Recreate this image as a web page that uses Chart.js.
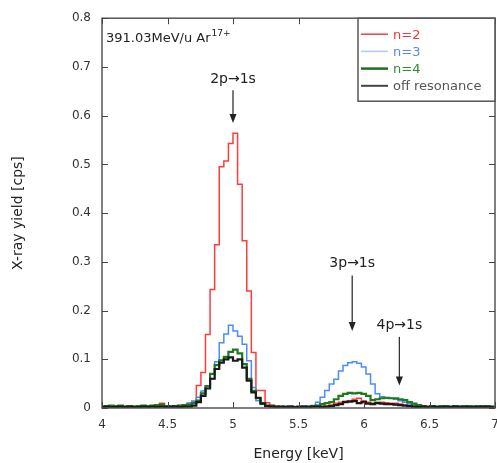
<!DOCTYPE html>
<html>
<head>
<meta charset="utf-8">
<script src="https://cdn.jsdelivr.net/npm/chart.js@4.4.1/dist/chart.umd.min.js"></script>
<style>
    html, body { margin: 0; padding: 0; background: #fff; }
</style>
</head>
<body>
<canvas id="spectrum" width="497" height="463"></canvas>
<script>
// bin edges of the histogram [keV]
var energyEdges = [
    3.985, 4.020, 4.055, 4.090, 4.125, 4.160, 4.195, 4.230, 4.265, 4.300,
    4.335, 4.370, 4.405, 4.440, 4.475, 4.510, 4.545, 4.580, 4.615, 4.650,
    4.685, 4.720, 4.755, 4.790, 4.825, 4.860, 4.895, 4.930, 4.965, 5.000,
    5.035, 5.070, 5.105, 5.140, 5.175, 5.210, 5.245, 5.280, 5.315, 5.350,
    5.385, 5.420, 5.455, 5.490, 5.525, 5.560, 5.595, 5.630, 5.665, 5.700,
    5.735, 5.770, 5.805, 5.840, 5.875, 5.910, 5.945, 5.980, 6.015, 6.050,
    6.085, 6.120, 6.155, 6.190, 6.225, 6.260, 6.295, 6.330, 6.365, 6.400,
    6.435, 6.470, 6.505, 6.540, 6.575, 6.610, 6.645, 6.680, 6.715, 6.750,
    6.785, 6.820, 6.855, 6.890, 6.925, 6.960, 6.995
];

// counts per bin [cps]
var yieldN2 = [
    0.002, 0.003, 0.002, 0.003, 0.002, 0.003, 0.002, 0.003, 0.004, 0.003,
    0.003, 0.004, 0.005, 0.010, 0.004, 0.003, 0.004, 0.005, 0.006,
    0.010, 0.014, 0.046, 0.073, 0.151, 0.243, 0.335, 0.495, 0.507, 0.543,
    0.564, 0.459, 0.343, 0.240, 0.114, 0.036, 0.036, 0.011, 0.006, 0.004,
    0.003, 0.002, 0.003, 0.002, 0.003, 0.002, 0.003, 0.003, 0.004, 0.004,
    0.004, 0.006, 0.010, 0.012, 0.014, 0.015, 0.018, 0.020, 0.015, 0.012,
    0.010, 0.012, 0.012, 0.011, 0.010, 0.010, 0.008, 0.006, 0.004, 0.003,
    0.002, 0.003, 0.002, 0.003, 0.002, 0.002, 0.003, 0.002, 0.003, 0.002,
    0.003, 0.002, 0.003, 0.002, 0.002, 0.003, 0.002
];
var yieldN3 = [
    0.002, 0.002, 0.003, 0.002, 0.002, 0.003, 0.002, 0.003, 0.002, 0.003,
    0.002, 0.003, 0.003, 0.004, 0.003, 0.002, 0.003, 0.004, 0.006,
    0.010, 0.014, 0.022, 0.035, 0.045, 0.060, 0.095, 0.134, 0.152, 0.170,
    0.158, 0.147, 0.131, 0.097, 0.042, 0.015, 0.008, 0.005, 0.004, 0.003,
    0.002, 0.003, 0.002, 0.003, 0.002, 0.004, 0.003, 0.005, 0.012, 0.022,
    0.036, 0.049, 0.059, 0.076, 0.087, 0.093, 0.095, 0.092, 0.084, 0.070,
    0.049, 0.029, 0.023, 0.020, 0.020, 0.018, 0.015, 0.012, 0.008, 0.006,
    0.005, 0.004, 0.003, 0.004, 0.003, 0.003, 0.004, 0.003, 0.003, 0.004,
    0.003, 0.003, 0.004, 0.003, 0.003, 0.004, 0.003
];
var yieldN4 = [
    0.003, 0.004, 0.005, 0.004, 0.005, 0.003, 0.004, 0.003, 0.004, 0.005,
    0.004, 0.005, 0.006, 0.007, 0.004, 0.003, 0.004, 0.005, 0.006,
    0.007, 0.010, 0.015, 0.030, 0.045, 0.070, 0.088, 0.098, 0.105, 0.115,
    0.120, 0.112, 0.090, 0.060, 0.035, 0.020, 0.010, 0.005, 0.004, 0.003,
    0.002, 0.003, 0.003, 0.002, 0.003, 0.002, 0.003, 0.004, 0.005, 0.008,
    0.010, 0.012, 0.018, 0.025, 0.029, 0.031, 0.030, 0.031, 0.029, 0.025,
    0.016, 0.018, 0.020, 0.021, 0.020, 0.020, 0.018, 0.016, 0.012, 0.009,
    0.006, 0.004, 0.003, 0.004, 0.003, 0.004, 0.003, 0.003, 0.004, 0.003,
    0.003, 0.004, 0.003, 0.003, 0.004, 0.003, 0.003
];
var yieldOff = [
    0.002, 0.003, 0.002, 0.002, 0.003, 0.002, 0.003, 0.002, 0.002, 0.003,
    0.002, 0.003, 0.002, 0.003, 0.002, 0.003, 0.003, 0.002, 0.003,
    0.003, 0.005, 0.012, 0.025, 0.040, 0.060, 0.080, 0.093, 0.100, 0.104,
    0.097, 0.100, 0.083, 0.056, 0.032, 0.021, 0.009, 0.004, 0.003, 0.002,
    0.003, 0.002, 0.003, 0.002, 0.002, 0.003, 0.002, 0.003, 0.003, 0.002,
    0.003, 0.004, 0.006, 0.008, 0.012, 0.013, 0.014, 0.010, 0.012, 0.009,
    0.008, 0.010, 0.009, 0.008, 0.008, 0.007, 0.006, 0.005, 0.004, 0.003,
    0.002, 0.003, 0.002, 0.003, 0.002, 0.002, 0.003, 0.002, 0.003, 0.002,
    0.003, 0.002, 0.002, 0.003, 0.002, 0.003, 0.002
];

var seriesLabels = ["n=2", "n=3", "n=4", "off resonance"];
var xTicks = [4, 4.5, 5, 5.5, 6, 6.5, 7];
var yTicks = [0, 0.1, 0.2, 0.3, 0.4, 0.5, 0.6, 0.7, 0.8];

var transitionLabels = ["2p\u21921s", "3p\u21921s", "4p\u21921s"];
var transitionEnergies = [5.0, 5.91, 6.27];

// placement of the annotations, in axis units
var arrowLayout = [
    { labelY: 0.675, fromY: 0.652, toY: 0.585 },
    { labelY: 0.296, fromY: 0.272, toY: 0.158 },
    { labelY: 0.170, fromY: 0.146, toY: 0.046 }
];

var FONT = "'DejaVu Sans', sans-serif";

function toSteps(values) {
    var pts = values.map(function (v, i) {
        return { x: energyEdges[i], y: v };
    });
    pts.push({ x: energyEdges[values.length], y: values[values.length - 1] });
    return pts;
}

function stepSet(label, values, color, width, order) {
    return {
        label: label,
        data: toSteps(values),
        borderColor: color,
        backgroundColor: color,
        borderWidth: width,
        stepped: true,
        pointRadius: 0,
        fill: false,
        order: order
    };
}

var legendTextColors = ['#e83a3a', '#4f8df5', '#2f8a2f', '#555555'];
var legendLineColors = ['#f04040', '#a9c8ff', '#1d6e1d', '#444444'];
var legendLineWidths = [1.5, 1.5, 2.5, 2];

var framePlugin = {
    id: 'frame',
    afterDatasetsDraw: function (chart) {
        var ctx = chart.ctx;
        var a = chart.chartArea;
        var xs = chart.scales.x;
        var ys = chart.scales.y;
        ctx.save();

        // box around plot
        ctx.strokeStyle = '#555';
        ctx.lineWidth = 1.5;
        ctx.strokeRect(a.left, a.top, a.right - a.left, a.bottom - a.top);

        // inward ticks on all four sides
        ctx.lineWidth = 1;
        ctx.strokeStyle = '#444';
        ctx.beginPath();
        xTicks.forEach(function (v) {
            var px = Math.round(xs.getPixelForValue(v)) + 0.5;
            ctx.moveTo(px, a.bottom);
            ctx.lineTo(px, a.bottom - 6);
            ctx.moveTo(px, a.top);
            ctx.lineTo(px, a.top + 6);
        });
        yTicks.forEach(function (v) {
            var py = Math.round(ys.getPixelForValue(v)) + 0.5;
            ctx.moveTo(a.left, py);
            ctx.lineTo(a.left + 6, py);
            ctx.moveTo(a.right, py);
            ctx.lineTo(a.right - 6, py);
        });
        ctx.stroke();

        // beam label
        ctx.fillStyle = '#222';
        ctx.textBaseline = 'middle';
        ctx.textAlign = 'left';
        ctx.font = '13px ' + FONT;
        var tx = a.left + 4, ty = a.top + 20;
        var main = '391.03MeV/u Ar';
        ctx.fillText(main, tx, ty);
        var w = ctx.measureText(main).width;
        ctx.font = '9px ' + FONT;
        ctx.fillText('17+', tx + w + 1, ty - 5);

        // transition arrows
        ctx.font = '14px ' + FONT;
        ctx.textAlign = 'center';
        ctx.strokeStyle = '#333';
        ctx.fillStyle = '#222';
        transitionLabels.forEach(function (txt, i) {
            var px = xs.getPixelForValue(transitionEnergies[i]);
            var spec = arrowLayout[i];
            ctx.fillText(txt, px, ys.getPixelForValue(spec.labelY));
            var y0 = ys.getPixelForValue(spec.fromY);
            var y1 = ys.getPixelForValue(spec.toY);
            ctx.lineWidth = 1.3;
            ctx.beginPath();
            ctx.moveTo(px, y0);
            ctx.lineTo(px, y1 - 6);
            ctx.stroke();
            ctx.beginPath();
            ctx.moveTo(px - 3.5, y1 - 9);
            ctx.lineTo(px + 3.5, y1 - 9);
            ctx.lineTo(px, y1);
            ctx.closePath();
            ctx.fill();
        });

        // legend box in the top right corner
        var bx = 358, by = a.top, bw = a.right - bx, bh = 83;
        ctx.fillStyle = '#fff';
        ctx.fillRect(bx, by, bw, bh);
        ctx.strokeStyle = '#555';
        ctx.lineWidth = 1.5;
        ctx.strokeRect(bx, by, bw, bh);
        ctx.font = '13px ' + FONT;
        ctx.textAlign = 'left';
        seriesLabels.forEach(function (lab, i) {
            var ly = by + 16 + i * 17.2;
            ctx.strokeStyle = legendLineColors[i];
            ctx.lineWidth = legendLineWidths[i];
            ctx.beginPath();
            ctx.moveTo(bx + 3, ly);
            ctx.lineTo(bx + 30, ly);
            ctx.stroke();
            ctx.fillStyle = legendTextColors[i];
            ctx.fillText(lab, bx + 35, ly + 1);
        });
        ctx.restore();
    }
};

var ctx = document.getElementById("spectrum").getContext("2d");
var chart = new Chart(ctx, {
    type: 'line',
    data: {
        datasets: [
            stepSet(seriesLabels[0], yieldN2, '#ff3b3b', 1.5, 4),
            stepSet(seriesLabels[1], yieldN3, '#4a8cff', 1.5, 3),
            stepSet(seriesLabels[2], yieldN4, '#1d7a1d', 2.2, 2),
            stepSet(seriesLabels[3], yieldOff, '#1a1a1a', 2.2, 1)
        ]
    },
    options: {
        responsive: false,
        animation: false,
        layout: {
            padding: { top: 14, right: 2, left: 0, bottom: 0 }
        },
        plugins: {
            legend: { display: false },
            tooltip: { enabled: false }
        },
        scales: {
            x: {
                type: 'linear',
                min: 4,
                max: 7,
                grid: { display: false, drawTicks: false },
                border: { display: false },
                afterBuildTicks: function (scale) {
                    scale.ticks = xTicks.map(function (v) { return { value: v }; });
                },
                afterFit: function (scale) {
                    scale.height = 55;
                    scale.paddingLeft = 0;
                    scale.paddingRight = 0;
                },
                ticks: {
                    padding: 10,
                    color: '#333',
                    font: { family: FONT, size: 12 },
                    maxRotation: 0,
                    callback: function (v) { return String(v); }
                },
                title: {
                    display: true,
                    text: 'Energy [keV]',
                    color: '#222',
                    font: { family: FONT, size: 14 },
                    padding: { top: 0, bottom: 0 }
                }
            },
            y: {
                min: 0,
                max: 0.8,
                grid: { display: false, drawTicks: false },
                border: { display: false },
                afterBuildTicks: function (scale) {
                    scale.ticks = yTicks.map(function (v) { return { value: v }; });
                },
                afterFit: function (scale) {
                    scale.width = 102;
                },
                ticks: {
                    padding: 11,
                    color: '#333',
                    font: { family: FONT, size: 12 },
                    callback: function (v) { return String(v); }
                },
                title: {
                    display: true,
                    text: 'X-ray yield [cps]',
                    color: '#222',
                    font: { family: FONT, size: 14 },
                    padding: { top: 10, bottom: 0 }
                }
            }
        }
    },
    plugins: [framePlugin]
});
</script>
</body>
</html>
